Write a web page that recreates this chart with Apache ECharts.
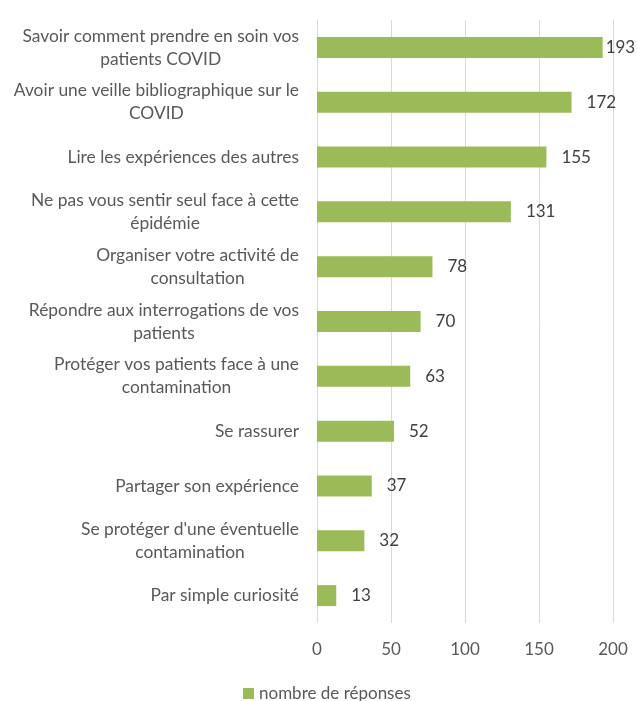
<!DOCTYPE html>
<html>
<head>
<meta charset="utf-8">
<script src="https://cdn.jsdelivr.net/npm/echarts@6/dist/echarts.min.js"></script>
<style>
  html, body { margin: 0; padding: 0; background: #fff; }
  #chart { width: 637px; height: 701px; }
</style>
</head>
<body>
<div id="chart"></div>
<script>
// categories top to bottom, with the line breaks seen in the picture
var categories = [
    'Savoir comment prendre en soin vos\npatients COVID',
    'Avoir une veille bibliographique sur le\nCOVID',
    'Lire les expériences des autres',
    'Ne pas vous sentir seul face à cette\népidémie',
    'Organiser votre activité de\nconsultation',
    'Répondre aux interrogations de vos\npatients',
    'Protéger vos patients face à une\ncontamination',
    'Se rassurer',
    'Partager son expérience',
    "Se protéger d'une éventuelle\ncontamination",
    'Par simple curiosité'
];
var reponses = [193, 172, 155, 131, 78, 70, 63, 52, 37, 32, 13];
var seriesName = 'nombre de réponses';
var xMax = 200;

var chart = echarts.init(document.getElementById('chart'));
var option = {
    textStyle: { fontFamily: 'Lato' },
    animation: false,
    grid: { left: 317, right: 24, top: 20, bottom: 78 },
    legend: {
        data: [seriesName],
        top: 680,
        left: 238,
        icon: 'rect',
        itemWidth: 11,
        itemHeight: 11,
        itemGap: 4,
        textStyle: { color: '#595959', fontSize: 17, fontFamily: 'Lato' }
    },
    xAxis: {
        type: 'value',
        min: 0,
        max: xMax,
        interval: 50,
        axisLine: { show: false },
        axisTick: { show: false },
        splitLine: { lineStyle: { color: '#d9d9d9', width: 1 } },
        axisLabel: { color: '#595959', fontSize: 17, margin: 18, fontFamily: 'Lato' }
    },
    yAxis: {
        type: 'category',
        inverse: true,
        data: categories,
        axisLine: { show: false },
        axisTick: { show: false },
        axisLabel: {
            margin: 18,
            formatter: function (v) {
                return v.split('\n').map(function (s) { return '{c|' + s + '}'; }).join('\n');
            },
            rich: {
                c: { align: 'center', color: '#595959', fontSize: 17.4, lineHeight: 23, fontFamily: 'Lato' }
            }
        }
    },
    series: [{
        name: seriesName,
        type: 'bar',
        barWidth: 21,
        itemStyle: { color: '#9bbb59' },
        data: reponses.map(function (v) {
            // Excel pulls the longest label back inside the plot
            return v > 185 ? { value: v, label: { distance: 3 } } : v;
        }),
        label: {
            show: true,
            position: 'right',
            distance: 15,
            color: '#404040',
            fontSize: 17,
            fontFamily: 'Lato'
        }
    }]
};
chart.setOption(option);
</script>
</body>
</html>
